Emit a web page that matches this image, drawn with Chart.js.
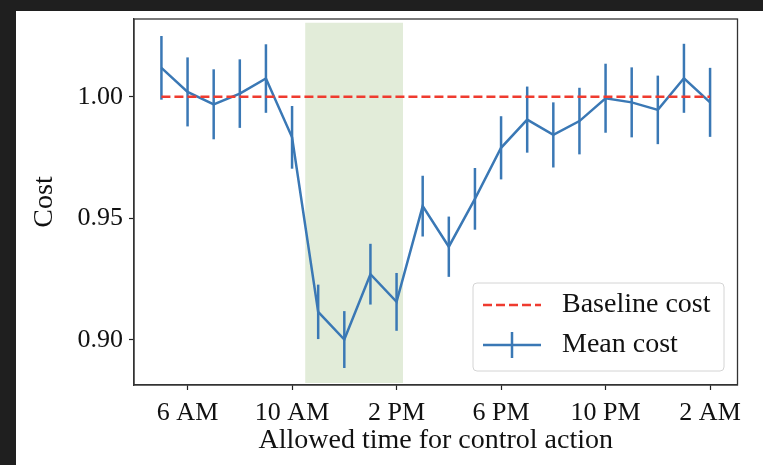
<!DOCTYPE html>
<html>
<head>
<meta charset="utf-8">
<script src="https://cdn.jsdelivr.net/npm/chart.js@4.4.0/dist/chart.umd.min.js"></script>
<style>
  html, body { margin: 0; padding: 0; background: #1f1f1f; }
  #hoja { position: absolute; left: 16px; top: 11px; width: 747px; height: 454px; background: #fff; }
  #grafica { position: absolute; left: 0; top: 0; }
</style>
</head>
<body>
<div id="hoja"></div>
<canvas id="grafica" width="763" height="465"></canvas>
<script>
// Datos: hora del día (5 = 5 AM ... 26 = 2 AM del día siguiente)
const horas = [5, 6, 7, 8, 9, 10, 11, 12, 13, 14, 15, 16, 17, 18, 19, 20, 21, 22, 23, 24, 25, 26];
const costoMedio = [1.0119, 1.0020, 0.9969, 1.0013, 1.0075, 0.9833, 0.9115, 0.9001, 0.9270, 0.9156, 0.9550,
                    0.9383, 0.9580, 0.9790, 0.9906, 0.9843, 0.9900, 0.9994, 0.9977, 0.9946, 1.0076, 0.9977];
const errorCosto = [0.0131, 0.0142, 0.0144, 0.0141, 0.0141, 0.0129, 0.0112, 0.0117, 0.0125, 0.0119, 0.0125,
                    0.0124, 0.0127, 0.0130, 0.0136, 0.0134, 0.0137, 0.0142, 0.0144, 0.0141, 0.0142, 0.0142];
const costoBase = 1.0;

// Franja sombreada (horas y límites de costo)
const franjaHoras = [10.5, 14.25];
const franjaCosto = [0.8822, 1.0305];

// Etiquetas de los ejes
const horasTicks = [6, 10, 14, 18, 22, 26];
const etiquetasTicks = ['6 AM', '10 AM', '2 PM', '6 PM', '10 PM', '2 AM'];
const ticksCosto = [0.90, 0.95, 1.00];

const AZUL = '#3a78b5';
const ROJO = '#ef3b2f';
const VERDE = '#e2ecd9';
const FUENTE = '"Liberation Serif", "DejaVu Serif", serif';

Chart.defaults.font.family = FUENTE;
Chart.defaults.color = '#111';

// Barras de error verticales para la serie del costo medio
const barrasError = {
    id: 'barrasError',
    afterDatasetDraw(chart, args) {
        if (args.index !== 1) return;
        const ctx = chart.ctx;
        const x = chart.scales.x, y = chart.scales.y;
        ctx.save();
        ctx.strokeStyle = AZUL;
        ctx.lineWidth = 2.5;
        horas.forEach((h, i) => {
            const px = x.getPixelForValue(h);
            ctx.beginPath();
            ctx.moveTo(px, y.getPixelForValue(costoMedio[i] - errorCosto[i]));
            ctx.lineTo(px, y.getPixelForValue(costoMedio[i] + errorCosto[i]));
            ctx.stroke();
        });
        ctx.restore();
    }
};

// Marco completo alrededor del área de la gráfica
const marco = {
    id: 'marco',
    afterDraw(chart) {
        const { ctx, chartArea: a } = chart;
        ctx.save();
        ctx.strokeStyle = '#333';
        ctx.lineWidth = 1.3;
        ctx.strokeRect(a.left, a.top, a.right - a.left, a.bottom - a.top);
        ctx.restore();
    }
};

// Leyenda dibujada a mano (línea discontinua y línea con barra de error)
const leyenda = {
    id: 'leyenda',
    afterDraw(chart) {
        const { ctx, chartArea: a } = chart;
        const ancho = 251, alto = 88;
        const x0 = a.right - 13.5 - ancho;
        const y0 = a.bottom - 14 - alto;
        ctx.save();
        ctx.beginPath();
        ctx.roundRect(x0, y0, ancho, alto, 4);
        ctx.fillStyle = 'rgba(255,255,255,0.85)';
        ctx.fill();
        ctx.strokeStyle = '#d4d4d4';
        ctx.lineWidth = 1;
        ctx.stroke();

        const ds = chart.data.datasets;
        const filas = [y0 + 22, y0 + 62];
        const hx0 = x0 + 10, hx1 = x0 + 68;

        // Costo base
        ctx.strokeStyle = ROJO;
        ctx.lineWidth = 2.5;
        ctx.setLineDash([9, 4]);
        ctx.beginPath();
        ctx.moveTo(hx0, filas[0]);
        ctx.lineTo(hx1, filas[0]);
        ctx.stroke();
        ctx.setLineDash([]);

        // Costo medio
        ctx.strokeStyle = AZUL;
        ctx.beginPath();
        ctx.moveTo(hx0, filas[1]);
        ctx.lineTo(hx1, filas[1]);
        ctx.moveTo((hx0 + hx1) / 2, filas[1] - 13);
        ctx.lineTo((hx0 + hx1) / 2, filas[1] + 13);
        ctx.stroke();

        ctx.fillStyle = '#111';
        ctx.font = '28px ' + FUENTE;
        ctx.textBaseline = 'middle';
        ctx.fillText(ds[0].label, x0 + 89, filas[0]);
        ctx.fillText(ds[1].label, x0 + 89, filas[1]);
        ctx.restore();
    }
};

const ctx = document.getElementById('grafica').getContext('2d');

new Chart(ctx, {
    type: 'line',
    data: {
        datasets: [
            {
                label: 'Baseline cost',
                data: [{ x: horas[0], y: costoBase }, { x: horas[horas.length - 1], y: costoBase }],
                borderColor: ROJO,
                borderWidth: 2.5,
                borderDash: [9, 4],
                pointRadius: 0,
                order: 0
            },
            {
                label: 'Mean cost',
                data: horas.map((h, i) => ({ x: h, y: costoMedio[i] })),
                borderColor: AZUL,
                borderWidth: 2.5,
                pointRadius: 0,
                tension: 0,
                order: 1
            },
            {
                label: 'franja',
                data: franjaHoras.map(h => ({ x: h, y: franjaCosto[1] })),
                borderWidth: 0,
                pointRadius: 0,
                backgroundColor: VERDE,
                fill: { value: franjaCosto[0] },
                order: 2
            }
        ]
    },
    options: {
        responsive: false,
        animation: false,
        devicePixelRatio: 1,
        layout: { padding: { left: 0, top: 15, right: 25.5, bottom: 0 } },
        plugins: {
            legend: { display: false },
            tooltip: { enabled: false }
        },
        scales: {
            x: {
                type: 'linear',
                min: 3.95,
                max: 27.05,
                afterBuildTicks: s => { s.ticks = horasTicks.map(v => ({ value: v })); },
                afterFit: s => { s.height = 80; },
                ticks: {
                    callback: v => etiquetasTicks[horasTicks.indexOf(v)],
                    font: { size: 26 },
                    padding: 8,
                    maxRotation: 0
                },
                grid: { drawOnChartArea: false, tickLength: 5, tickColor: '#222', tickWidth: 1.2 },
                border: { color: '#333', width: 1.3 },
                title: {
                    display: true,
                    text: 'Allowed time for control action',
                    font: { size: 28 },
                    padding: { top: 0, bottom: 8 }
                }
            },
            y: {
                min: 0.8814,
                max: 1.0320,
                afterBuildTicks: s => { s.ticks = ticksCosto.map(v => ({ value: v })); },
                afterFit: s => { s.width = 134; },
                ticks: {
                    callback: v => v.toFixed(2),
                    font: { size: 26, lineHeight: 1 },
                    padding: 6
                },
                grid: { drawOnChartArea: false, tickLength: 5, tickColor: '#222', tickWidth: 1.2 },
                border: { color: '#333', width: 1.3 },
                title: {
                    display: true,
                    text: 'Cost',
                    font: { size: 28 },
                    padding: { top: 28, bottom: 0 }
                }
            }
        }
    },
    plugins: [barrasError, marco, leyenda]
});
</script>
</body>
</html>
